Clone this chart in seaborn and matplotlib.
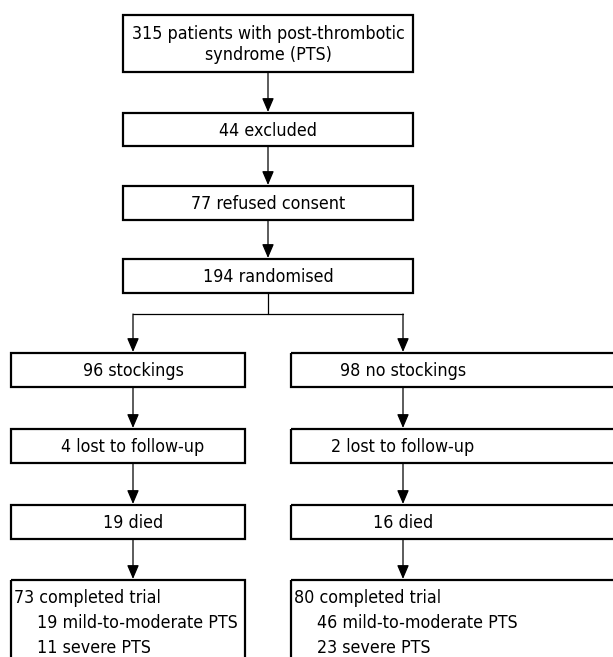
import matplotlib
matplotlib.use("Agg")
import matplotlib.pyplot as plt
from matplotlib.patches import Rectangle
import seaborn as sns

# ---- data (box texts) ----
top_labels = ["315 patients with post-thrombotic\nsyndrome (PTS)",
              "44 excluded",
              "77 refused consent",
              "194 randomised"]
left_labels = ["96 stockings", "4 lost to follow-up", "19 died"]
right_labels = ["98 no stockings", "2 lost to follow-up", "16 died"]
left_final = ["73 completed trial", "19 mild-to-moderate PTS", "11 severe PTS"]
right_final = ["80 completed trial", "46 mild-to-moderate PTS", "23 severe PTS"]

sns.set_theme(style="white")
plt.rcParams['font.family'] = ['DejaVu Sans']
plt.rcParams['font.stretch'] = 'condensed'
plt.rcParams['text.color'] = 'black'

W, H = 613, 657
fig = plt.figure(figsize=(W / 100, H / 100), dpi=100)
ax = fig.add_axes([0, 0, 1, 1])
ax.set_xlim(0, W)
ax.set_ylim(H, 0)
ax.axis("off")

FS = 12.8
BOX_LW = 1.6
ARR_LW = 0.9
TXT = dict(fontsize=FS, color="black", fontstretch="condensed")


def box(x0, x1, y0, y1):
    ax.add_patch(Rectangle((x0, y0), x1 - x0, y1 - y0, fill=False,
                           edgecolor="black", lw=BOX_LW, clip_on=True))


def arrow(x, y0, y1):
    ax.annotate("", xy=(x, y1), xytext=(x, y0),
                arrowprops=dict(arrowstyle="-|>,head_length=0.7,head_width=0.3",
                                lw=ARR_LW, color="black", shrinkA=0, shrinkB=0))


# top column
top_x = (123, 413)
top_y = [(15, 72), (113, 146), (186, 220), (259, 293)]
cx = sum(top_x) / 2
for lab, (y0, y1) in zip(top_labels, top_y):
    box(top_x[0], top_x[1], y0, y1)
    ax.text(cx, (y0 + y1) / 2 + 1, lab, ha="center", va="center",
            linespacing=1.25, **TXT)
for (a0, a1), (b0, b1) in zip(top_y[:-1], top_y[1:]):
    arrow(cx, a1, b0 - 1)

# branch
lx, rx = 133, 403
ax.plot([cx, cx], [293, 314], color="black", lw=ARR_LW)
ax.plot([lx, rx], [314, 314], color="black", lw=ARR_LW)

col_y = [(353, 387), (429, 463), (505, 539)]
final_y = (580, 675)
arrow(lx, 314, col_y[0][0] - 1)
arrow(rx, 314, col_y[0][0] - 1)

for labels, bx, tx, finals in [(left_labels, (11, 245), lx, left_final),
                               (right_labels, (291, 640), rx, right_final)]:
    for lab, (y0, y1) in zip(labels, col_y):
        box(bx[0], bx[1], y0, y1)
        ax.text(tx, (y0 + y1) / 2 + 1, lab, ha="center", va="center", **TXT)
    for (a0, a1), (b0, b1) in zip(col_y[:-1], col_y[1:]):
        arrow(tx, a1, b0 - 1)
    arrow(tx, col_y[-1][1], final_y[0] - 1)
    box(bx[0], bx[1], final_y[0], final_y[1])
    for i, lab in enumerate(finals):
        indent = 0 if i == 0 else 23
        ax.text(bx[0] + 3 + indent, final_y[0] + 18 + 25 * i, lab,
                ha="left", va="center", **TXT)

fig.savefig("out.png", dpi=100, facecolor="white")
